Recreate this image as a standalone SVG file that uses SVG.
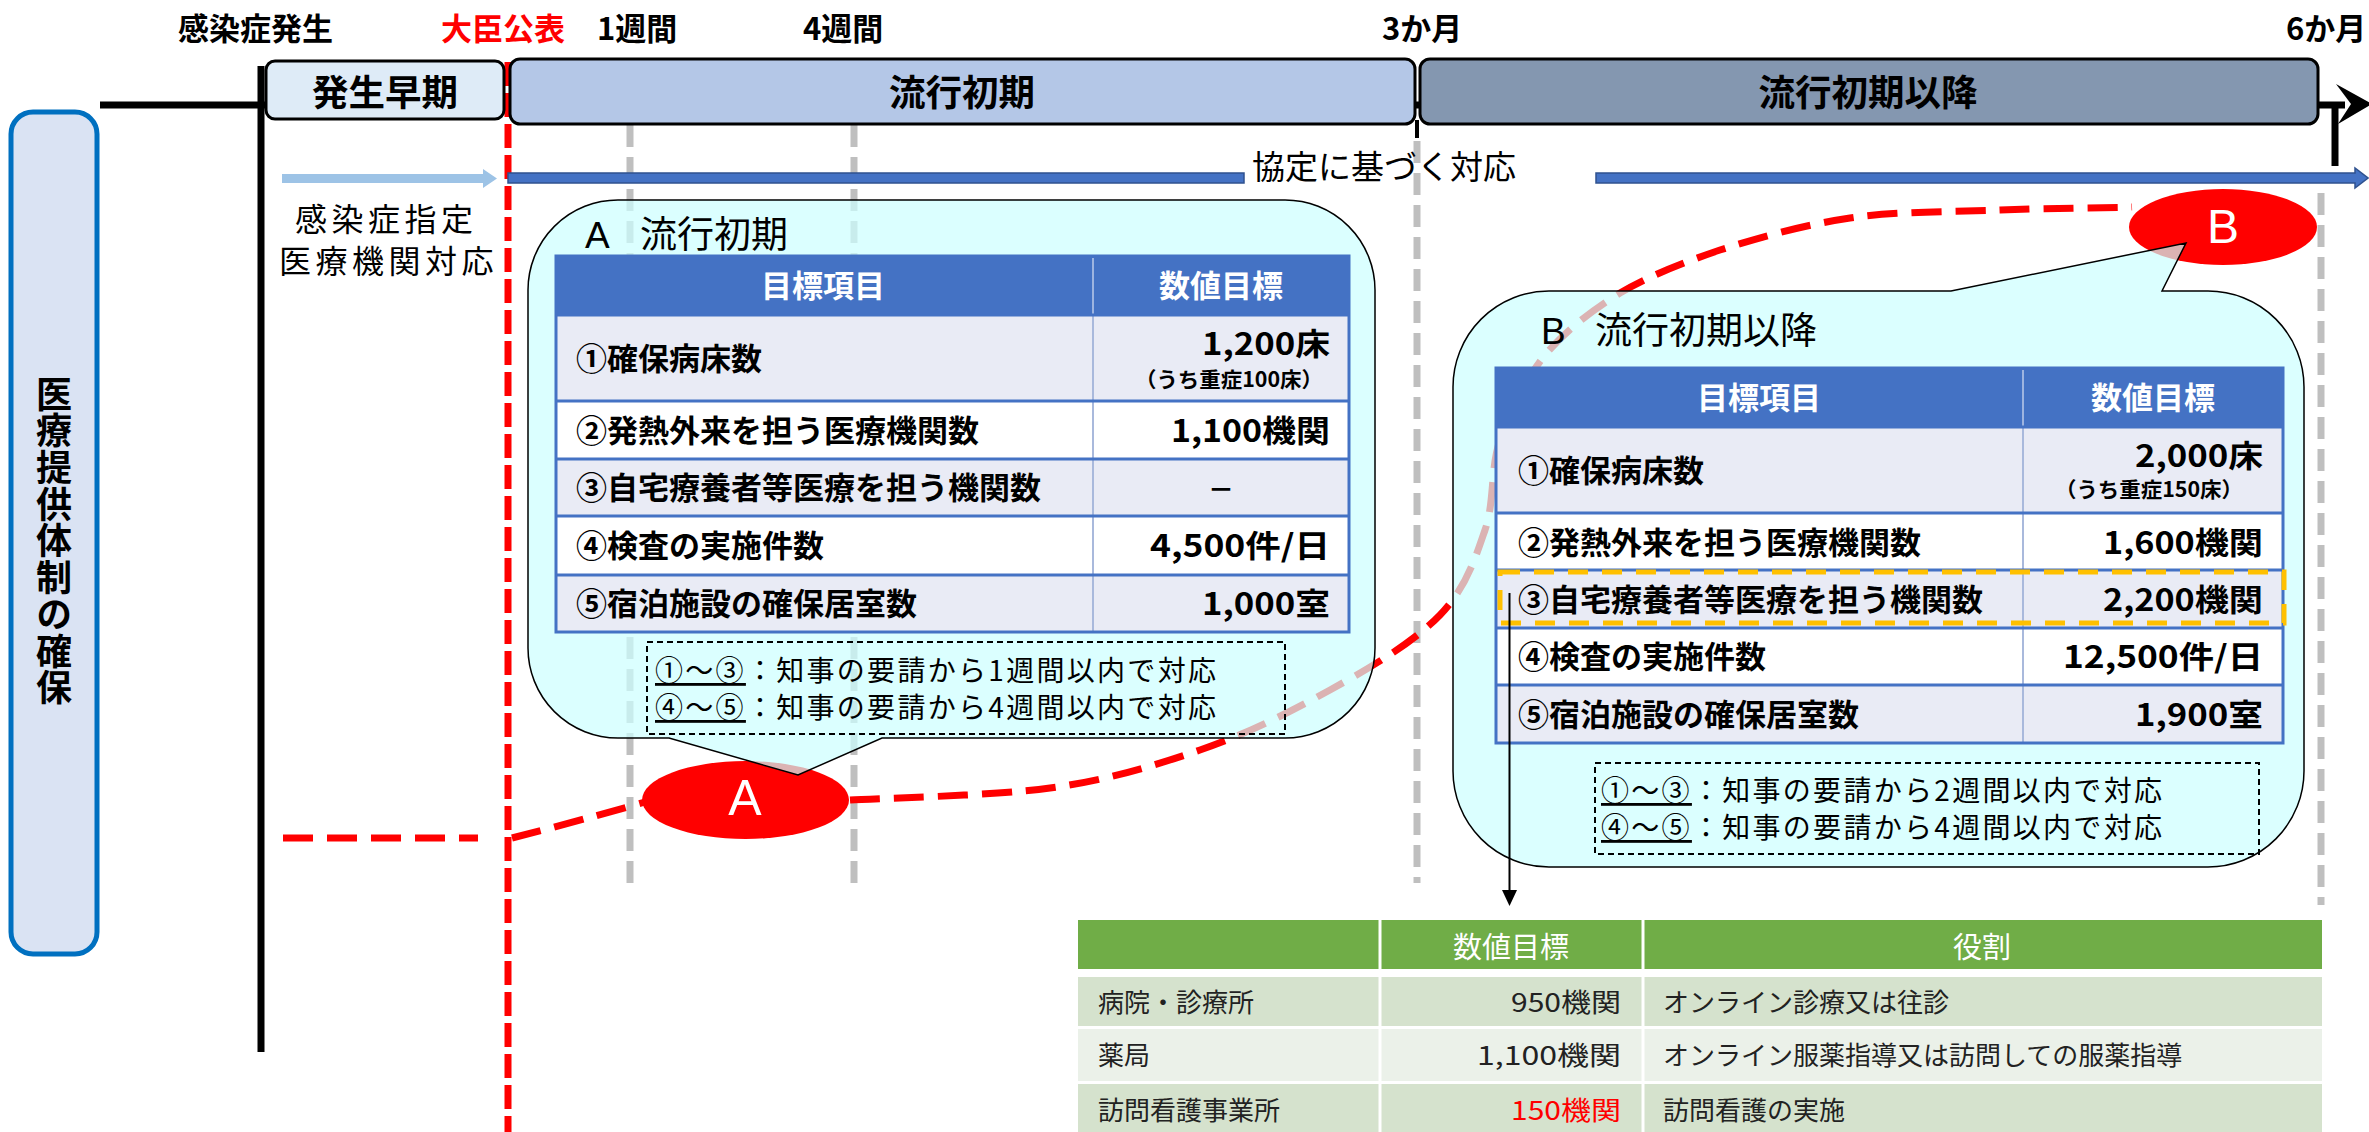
<svg xmlns="http://www.w3.org/2000/svg" width="2369" height="1132" viewBox="0 0 2369 1132">
<style>
text { font-family: "Noto Sans CJK JP", "Noto Sans CJK SC", sans-serif; }
.lat { font-family: "Liberation Sans", Arial, sans-serif; }
.phase { stroke: #000; stroke-width: 3; }
.top { font-size: 31px; font-weight: 700; }
.plabel { font-size: 36.5px; font-weight: 700; text-anchor: middle; fill: #000; }
.gray { stroke: #BFBFBF; stroke-width: 7; stroke-dasharray: 22 10; fill: none; }
.redv { stroke: #FF0000; stroke-width: 7; stroke-dasharray: 24 7; fill: none; }
.redc { stroke: #FF0000; stroke-width: 7; stroke-dasharray: 30 14; fill: none; }
.callout { fill: #CCFFFF; fill-opacity: 0.7; stroke: #000; stroke-width: 1.5; }
.hdr { fill: #4472C4; }
.ra { fill: #E9EBF5; }
.rb { fill: #FFFFFF; }
.rowline { stroke: #4472C4; stroke-width: 3; }
.colline { stroke: #A9B9DC; stroke-width: 2; }
.hcol { stroke: #9DB4E0; stroke-width: 2; }
.frame { fill: none; stroke: #4472C4; stroke-width: 3; }
.th { fill: #FFFFFF; font-size: 31px; font-weight: 700; text-anchor: middle; }
.td { font-size: 31px; font-weight: 700; fill: #000; }
.sub { font-size: 21px; font-weight: 700; fill: #000; }
.note { fill: none; stroke: #000; stroke-width: 2; stroke-dasharray: 6 4; }
.nt { font-size: 28px; fill: #000; letter-spacing: 2.3px; }
.title { font-size: 37px; fill: #000; }
.g { font-size: 26px; fill: #222; }
.gh { font-size: 29px; fill: #FFFFFF; text-anchor: middle; }
.gsep { stroke: #FFFFFF; stroke-width: 3; }
</style>

<!-- left vertical label -->
<g id="node-left-label">
  <rect x="11" y="112" width="86" height="842" rx="22" fill="#DAE3F3" stroke="#0070C0" stroke-width="5"/>
  <text x="54" y="376" font-size="36" font-weight="700" style="writing-mode: vertical-rl; letter-spacing: 0.7px">医療提供体制の確保</text>
</g>

<!-- connectors -->
<g id="connectors">
  <line x1="100" y1="105" x2="2345" y2="105" stroke="#000" stroke-width="7"/>
  <polygon points="2336,84 2372,104 2338,124 2351,104" fill="#000"/>
  <line x1="2335" y1="104" x2="2335" y2="166" stroke="#000" stroke-width="7"/>
  <line x1="261" y1="66" x2="261" y2="1052" stroke="#000" stroke-width="7"/>
  <line x1="1417" y1="120" x2="1417" y2="138" stroke="#000" stroke-width="4"/>
  <line class="gray" x1="630" y1="125" x2="630" y2="892"/>
  <line class="gray" x1="854" y1="125" x2="854" y2="883"/>
  <line class="gray" x1="1417" y1="141" x2="1417" y2="883"/>
  <line class="gray" x1="2321" y1="193" x2="2321" y2="905"/>
  <line class="redv" x1="508" y1="62" x2="508" y2="1132"/>
  <path d="M282,174 H483 V169 L497,178.5 L483,188 V183 H282 Z" fill="#9DC3E6"/>
  <rect x="508" y="173" width="736" height="10" fill="#4472C4" stroke="#2F528F" stroke-width="1.5"/>
  <path d="M1596,173 H2355 V168 L2368,178 L2355,188 V183 H1596 Z" fill="#4472C4" stroke="#2F528F" stroke-width="1.5"/>
  <path class="redc" d="M283,838 H478" stroke-dasharray="23 19.2"/>
  <path class="redc" d="M512,838 Q575,822 645,802"/>
  <path class="redc" d="M850,800 C883,798 992,796 1050,788 C1108,780 1153,766 1200,750 C1247,734 1290,712 1330,690 C1370,668 1414,642 1440,615 C1466,588 1475,559 1485,530 C1495,501 1490,469 1500,440 C1510,411 1525,380 1545,355 C1565,331 1591,311 1620,293 C1649,276 1682,263 1720,250 C1758,238 1803,225 1850,218 C1897,211 1953,212 2000,210 C2047,208 2108,208 2132,207"/>
</g>

<!-- top labels -->
<g id="node-top-labels">
  <text class="top" x="178" y="40">感染症発生</text>
  <text class="top" x="441" y="40" fill="#FF0000">大臣公表</text>
  <text class="top" x="597" y="40">1週間</text>
  <text class="top" x="803" y="40">4週間</text>
  <text class="top" x="1382" y="40">3か月</text>
  <text class="top" x="2286" y="40">6か月</text>
</g>

<!-- phase boxes -->
<g id="node-phase-early">
  <rect class="phase" x="266" y="61" width="238" height="58" rx="9" fill="#DEEBF7"/>
  <text class="plabel" x="385" y="106">発生早期</text>
</g>
<g id="node-phase-initial">
  <rect class="phase" x="510" y="59" width="905" height="65" rx="10" fill="#B4C7E7"/>
  <text class="plabel" x="962" y="106">流行初期</text>
</g>
<g id="node-phase-after">
  <rect class="phase" x="1420" y="59" width="898" height="65" rx="10" fill="#8497B0"/>
  <text class="plabel" x="1868" y="106">流行初期以降</text>
</g>

<g id="node-labels">
  <text font-size="32" style="letter-spacing: 4.5px"><tspan x="295" y="231">感染症指定</tspan><tspan x="279" y="273">医療機関対応</tspan></text>
  <text x="1252" y="179" font-size="33">協定に基づく対応</text>
</g>

<!-- ellipses -->
<g id="node-ellipse-a">
  <ellipse cx="745.5" cy="800" rx="103.5" ry="39" fill="#FF0000"/>
  <text class="lat" x="745" y="815" font-size="50" fill="#FFFFFF" text-anchor="middle">A</text>
</g>
<g id="node-ellipse-b">
  <ellipse cx="2223" cy="227" rx="94" ry="38" fill="#FF0000"/>
  <text class="lat" x="2223" y="243" font-size="48" fill="#FFFFFF" text-anchor="middle">B</text>
</g>

<!-- callout A -->
<g id="node-callout-a">
  <path class="callout" d="M618,200 H1285 A90,90 0 0 1 1375,290 V648 A90,90 0 0 1 1285,738 H882 L798,775 L669,738 H618 A90,90 0 0 1 528,648 V290 A90,90 0 0 1 618,200 Z"/>
  <text class="title"><tspan class="lat" x="585" y="248">A</tspan><tspan x="640" y="248">流行初期</tspan></text>
  <rect class="hdr" x="556" y="256" width="793" height="59"/>
  <rect class="ra" x="556" y="315" width="793" height="86"/>
  <rect class="rb" x="556" y="401" width="793" height="58"/>
  <rect class="ra" x="556" y="459" width="793" height="57"/>
  <rect class="rb" x="556" y="516" width="793" height="59"/>
  <rect class="ra" x="556" y="575" width="793" height="57"/>
  <line class="hcol" x1="1093" y1="258" x2="1093" y2="315"/>
  <line class="colline" x1="1093" y1="315" x2="1093" y2="632"/>
  <line class="rowline" x1="556" y1="315" x2="1349" y2="315"/>
  <line class="rowline" x1="556" y1="401" x2="1349" y2="401"/>
  <line class="rowline" x1="556" y1="459" x2="1349" y2="459"/>
  <line class="rowline" x1="556" y1="516" x2="1349" y2="516"/>
  <line class="rowline" x1="556" y1="575" x2="1349" y2="575"/>
  <rect class="frame" x="556" y="256" width="793" height="376"/>
  <text class="th" x="823" y="297">目標項目</text>
  <text class="th" x="1221" y="297">数値目標</text>
  <text class="td" x="576" y="370">①確保病床数</text>
  <text class="td" x="1202" y="355" textLength="128" lengthAdjust="spacingAndGlyphs">1,200床</text>
  <text class="sub" x="1135" y="387" textLength="188" lengthAdjust="spacingAndGlyphs">（うち重症100床）</text>
  <text class="td" x="576" y="442">②発熱外来を担う医療機関数</text>
  <text class="td" x="1171" y="442" textLength="159" lengthAdjust="spacingAndGlyphs">1,100機関</text>
  <text class="td" x="576" y="499">③自宅療養者等医療を担う機関数</text>
  <text x="1221" y="499" font-size="26" font-weight="700" text-anchor="middle">－</text>
  <text class="td" x="576" y="557">④検査の実施件数</text>
  <text class="td" x="1150" y="557" textLength="180" lengthAdjust="spacingAndGlyphs">4,500件/日</text>
  <text class="td" x="576" y="615">⑤宿泊施設の確保居室数</text>
  <text class="td" x="1202" y="615" textLength="128" lengthAdjust="spacingAndGlyphs">1,000室</text>
  <rect class="note" x="647" y="642" width="638" height="92"/>
  <text class="nt"><tspan x="655" y="681" text-decoration="underline">①～③</tspan><tspan>：知事の要請から1週間以内で対応</tspan><tspan x="655" y="718" text-decoration="underline">④～⑤</tspan><tspan>：知事の要請から4週間以内で対応</tspan></text>
</g>

<!-- callout B -->
<g id="node-callout-b">
  <path class="callout" d="M1549,291 H1951 L2186,243 L2162,291 H2208 A96,96 0 0 1 2304,387 V771 A96,96 0 0 1 2208,867 H1549 A96,96 0 0 1 1453,771 V387 A96,96 0 0 1 1549,291 Z"/>
  <text class="title"><tspan class="lat" x="1541" y="344">B</tspan><tspan x="1595" y="344">流行初期以降</tspan></text>
  <rect class="hdr" x="1496" y="368" width="787" height="59"/>
  <rect class="ra" x="1496" y="427" width="787" height="86"/>
  <rect class="rb" x="1496" y="513" width="787" height="57"/>
  <rect class="ra" x="1496" y="570" width="787" height="58"/>
  <rect class="rb" x="1496" y="628" width="787" height="57"/>
  <rect class="ra" x="1496" y="685" width="787" height="58"/>
  <line class="hcol" x1="2023" y1="370" x2="2023" y2="427"/>
  <line class="colline" x1="2023" y1="427" x2="2023" y2="743"/>
  <line class="rowline" x1="1496" y1="427" x2="2283" y2="427"/>
  <line class="rowline" x1="1496" y1="513" x2="2283" y2="513"/>
  <line class="rowline" x1="1496" y1="570" x2="2283" y2="570"/>
  <line class="rowline" x1="1496" y1="628" x2="2283" y2="628"/>
  <line class="rowline" x1="1496" y1="685" x2="2283" y2="685"/>
  <rect class="frame" x="1496" y="368" width="787" height="375"/>
  <rect x="1500" y="572" width="784" height="51" fill="none" stroke="#FFC000" stroke-width="5" stroke-dasharray="20 14"/>
  <text class="th" x="1759" y="409">目標項目</text>
  <text class="th" x="2153" y="409">数値目標</text>
  <text class="td" x="1518" y="482">①確保病床数</text>
  <text class="td" x="2135" y="467" textLength="128" lengthAdjust="spacingAndGlyphs">2,000床</text>
  <text class="sub" x="2055" y="497" textLength="188" lengthAdjust="spacingAndGlyphs">（うち重症150床）</text>
  <text class="td" x="1518" y="554">②発熱外来を担う医療機関数</text>
  <text class="td" x="2103" y="554" textLength="160" lengthAdjust="spacingAndGlyphs">1,600機関</text>
  <text class="td" x="1518" y="611">③自宅療養者等医療を担う機関数</text>
  <text class="td" x="2103" y="611" textLength="160" lengthAdjust="spacingAndGlyphs">2,200機関</text>
  <text class="td" x="1518" y="668">④検査の実施件数</text>
  <text class="td" x="2063" y="668" textLength="200" lengthAdjust="spacingAndGlyphs">12,500件/日</text>
  <text class="td" x="1518" y="726">⑤宿泊施設の確保居室数</text>
  <text class="td" x="2135" y="726" textLength="128" lengthAdjust="spacingAndGlyphs">1,900室</text>
  <rect class="note" x="1595" y="763" width="664" height="91"/>
  <text class="nt"><tspan x="1601" y="801" text-decoration="underline">①～③</tspan><tspan>：知事の要請から2週間以内で対応</tspan><tspan x="1601" y="838" text-decoration="underline">④～⑤</tspan><tspan>：知事の要請から4週間以内で対応</tspan></text>
</g>

<!-- arrow from B row 3 to green table -->
<g id="connector-b-green">
  <line x1="1509.5" y1="593" x2="1509.5" y2="892" stroke="#000" stroke-width="2"/>
  <polygon points="1502,890 1517,890 1509.5,906" fill="#000"/>
</g>

<!-- green table -->
<g id="node-green-table">
  <rect x="1078" y="920" width="1244" height="49" fill="#70AD47"/>
  <rect x="1078" y="977" width="1244" height="49" fill="#D5E2CD"/>
  <rect x="1078" y="1029" width="1244" height="52" fill="#EBF1E9"/>
  <rect x="1078" y="1084" width="1244" height="48" fill="#D5E2CD"/>
  <line class="gsep" x1="1380" y1="920" x2="1380" y2="1132"/>
  <line class="gsep" x1="1643" y1="920" x2="1643" y2="1132"/>
  <text class="gh" x="1511" y="958">数値目標</text>
  <text class="gh" x="1982" y="958">役割</text>
  <text class="g" x="1098" y="1012">病院・診療所</text>
  <text class="g" x="1511" y="1012" textLength="110" lengthAdjust="spacingAndGlyphs">950機関</text>
  <text class="g" x="1663" y="1012">オンライン診療又は往診</text>
  <text class="g" x="1098" y="1065">薬局</text>
  <text class="g" x="1477" y="1065" textLength="144" lengthAdjust="spacingAndGlyphs">1,100機関</text>
  <text class="g" x="1663" y="1065">オンライン服薬指導又は訪問しての服薬指導</text>
  <text class="g" x="1098" y="1120">訪問看護事業所</text>
  <text class="g" x="1511" y="1120" textLength="110" lengthAdjust="spacingAndGlyphs" style="fill:#FF0000">150機関</text>
  <text class="g" x="1663" y="1120">訪問看護の実施</text>
</g>
</svg>
